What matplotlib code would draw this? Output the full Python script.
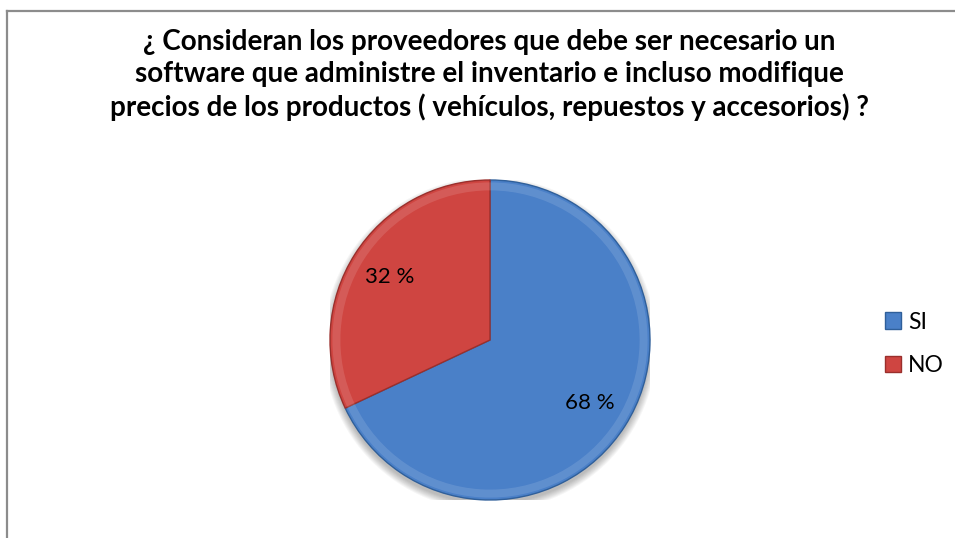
import matplotlib
matplotlib.use("Agg")
import matplotlib.pyplot as plt
import matplotlib.patches as mp
from matplotlib.lines import Line2D
import numpy as np

plt.rcParams['font.family'] = ['Lato', 'DejaVu Sans']

# datos de la encuesta
categorias = ["SI", "NO"]
porcentajes = [68, 32]
colores = ["#4a80c8", "#cf4541"]
bordes = ["#2f5f9a", "#9a2f2c"]
titulo = ("¿ Consideran los proveedores que debe ser necesario un\n"
          "software que administre el inventario e incluso modifique\n"
          "precios de los productos ( vehículos, repuestos y accesorios) ?")

W, H = 955, 538
fig = plt.figure(figsize=(W / 100, H / 100), dpi=100)

# marco gris (solo arriba e izquierda visibles)
fig.add_artist(Line2D([7 / W, 7 / W], [0, 1 - 11 / H], color="#8c8c8c", lw=1.6))
fig.add_artist(Line2D([7 / W, 1], [1 - 11 / H, 1 - 11 / H], color="#8c8c8c", lw=1.6))

fig.text(489 / W, 1 - 75 / H, titulo, ha="center", va="center",
         fontsize=20, fontweight="bold", linespacing=1.27, color="#000000")

ax = fig.add_axes([330 / W, 1 - 500 / H, 320 / W, 320 / H])

# sombra suave bajo el pastel
for i in range(8):
    ax.add_patch(mp.Circle((0.0, -0.025), 1.0 + 0.006 * i, color="#000000",
                           alpha=0.035, lw=0, zorder=0))

wedges, _, etiquetas = ax.pie(porcentajes, colors=colores, startangle=90,
                              counterclock=False, radius=1.0,
                              autopct=lambda p: f"{p:.0f} %", pctdistance=0.74,
                              wedgeprops=dict(lw=1.0),
                              textprops=dict(fontsize=16, color="#000000"))
for w, b in zip(wedges, bordes):
    w.set_edgecolor(b)
    w.set_zorder(2)
for t in etiquetas:
    t.set_zorder(5)

# efecto de bisel: anillo interno mas claro
for w in wedges:
    ax.add_patch(mp.Wedge((0, 0), 0.985, w.theta1, w.theta2, width=0.05,
                          facecolor="white", alpha=0.12, lw=0, zorder=3))

ax.set_xlim(-1, 1)
ax.set_ylim(-1, 1)
ax.set_aspect("equal")
ax.axis("off")

fig.legend(wedges, categorias, loc="center left",
           bbox_to_anchor=(885 / W, 1 - 344 / H), frameon=False,
           fontsize=16.5, handlelength=0.7, handleheight=0.7,
           handletextpad=0.3, labelspacing=1.0, borderpad=0, borderaxespad=0)

fig.savefig("out.png", dpi=100)
